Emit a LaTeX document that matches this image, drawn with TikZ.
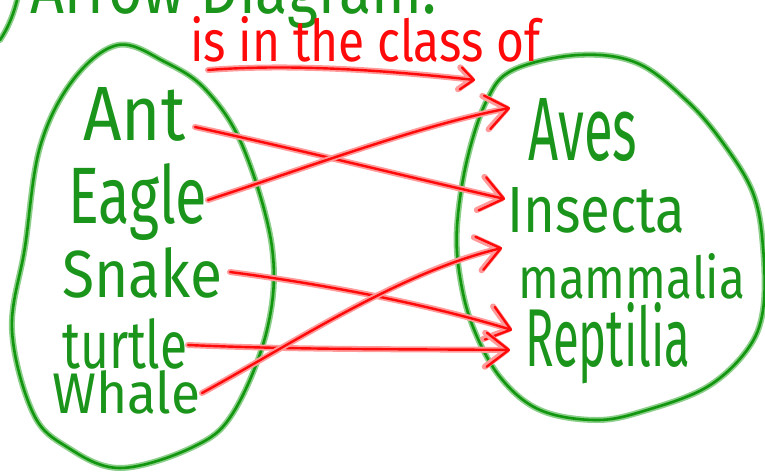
\documentclass[tikz,border=0pt]{standalone}
\usepackage{fontspec}
\setmainfont{Fira Sans}
\usetikzlibrary{arrows.meta}
\definecolor{gcore}{HTML}{12960F}
\definecolor{ghalo}{HTML}{8CCF8A}
\definecolor{gtext}{HTML}{1A941A}
\definecolor{rcore}{HTML}{FF0A0A}
\definecolor{rhalo}{HTML}{FF9A9A}
\newcommand\labfit[3]{\resizebox{#1pt}{#2pt}{#3}}
\begin{document}
\begin{tikzpicture}[x=1pt,y=-1pt,
  gline/.style={draw=gcore, line width=2.6pt, line cap=round, line join=round,
    preaction={draw=ghalo, line width=6pt, line cap=round, line join=round}},
  rline/.style={draw=rcore, line width=2.4pt, line cap=round, line join=round,
    preaction={draw=rhalo, line width=6pt, line cap=round, line join=round}},
  bigtip/.style={-{Straight Barb[length=22pt,width=34pt,round]}},
  smalltip/.style={-{Straight Barb[length=13pt,width=22pt,round]}},
  lab/.style={inner sep=0pt, anchor=base west, text=gtext},
  rlab/.style={inner sep=0pt, anchor=base west, text=rcore}]
\useasboundingbox (0,0) rectangle (765,471);
\fill[white] (0,0) rectangle (765,471);
\clip (0,0) rectangle (765,471);

% title (cut off at top)
\node[lab] (title) at (30,13) {\labfit{406}{55}{Arrow Diagram:}};
\draw[gline] (0,40) .. controls (8,28) and (14,14) .. (18,-4);

% sets
\draw[gline] plot[smooth cycle, tension=0.6] coordinates {
  (118,45) (165,62) (206,90) (243,147) (272,247) (267,330) (233,413)
  (193,447) (120,468) (67,447) (33,413) (12,330) (25,247) (40,147) (73,80)};
\draw[gline] plot[smooth cycle, tension=0.6] coordinates {
  (578,55) (637,63) (686,100) (723,143) (753,193) (763,247) (763,310)
  (747,350) (707,387) (647,410) (597,420) (540,410) (500,377) (473,327)
  (460,277) (457,227) (467,160) (487,100) (513,70)};

% domain labels
\node[lab] (ant)    at (83,140)  {\labfit{102}{53}{Ant}};
\node[lab] (eagle)  at (68,223)  {\labfit{139}{60}{Eagle}};
\node[lab] (snake)  at (62,297)  {\labfit{160}{50}{Snake}};
\node[lab] (turtle) at (62,368)  {\labfit{125}{50}{turtle}};
\node[lab] (whale)  at (52,413)  {\labfit{148}{43}{Whale}};

% codomain labels
\node[lab] (aves)     at (528,160) {\labfit{109}{62}{Aves}};
\node[lab] (insecta)  at (507,232) {\labfit{178}{45}{Insecta}};
\node[lab] (mammalia) at (518,298) {\labfit{227}{45}{mammalia}};
\node[lab] (reptilia) at (525,366) {\labfit{165}{64}{Reptilia}};

% relation label
\node[rlab] (rel) at (190,61) {\labfit{350}{45}{is in the class of}};

% connector end points
\coordinate (relL) at (208,70);
\coordinate (relR) at (475,80);
\coordinate (antOut) at (195,127);
\coordinate (eagleOut) at (208,200);
\coordinate (snakeOut) at (230,272);
\coordinate (turtleOut) at (188,345);
\coordinate (whaleOut) at (202,393);
\coordinate (avesIn) at (510,108);
\coordinate (insectaIn) at (505,199);
\coordinate (mammaliaIn) at (502,248);
\coordinate (reptiliaInA) at (512,330);
\coordinate (reptiliaInB) at (510,350);

% arrows
\draw[rline, smalltip] (relL) .. controls (300,63) and (400,72) .. (relR);
\draw[rline, bigtip] (antOut) .. controls (300,150) and (400,175) .. (insectaIn);
\draw[rline, bigtip] (eagleOut) .. controls (300,170) and (420,125) .. (avesIn);
\draw[rline, bigtip] (snakeOut) .. controls (330,285) and (430,305) .. (reptiliaInA);
\draw[rline, bigtip] (turtleOut) .. controls (300,350) and (420,349) .. (reptiliaInB);
\draw[rline, bigtip] (whaleOut) .. controls (290,345) and (400,272) .. (mammaliaIn);
\end{tikzpicture}
\end{document}
